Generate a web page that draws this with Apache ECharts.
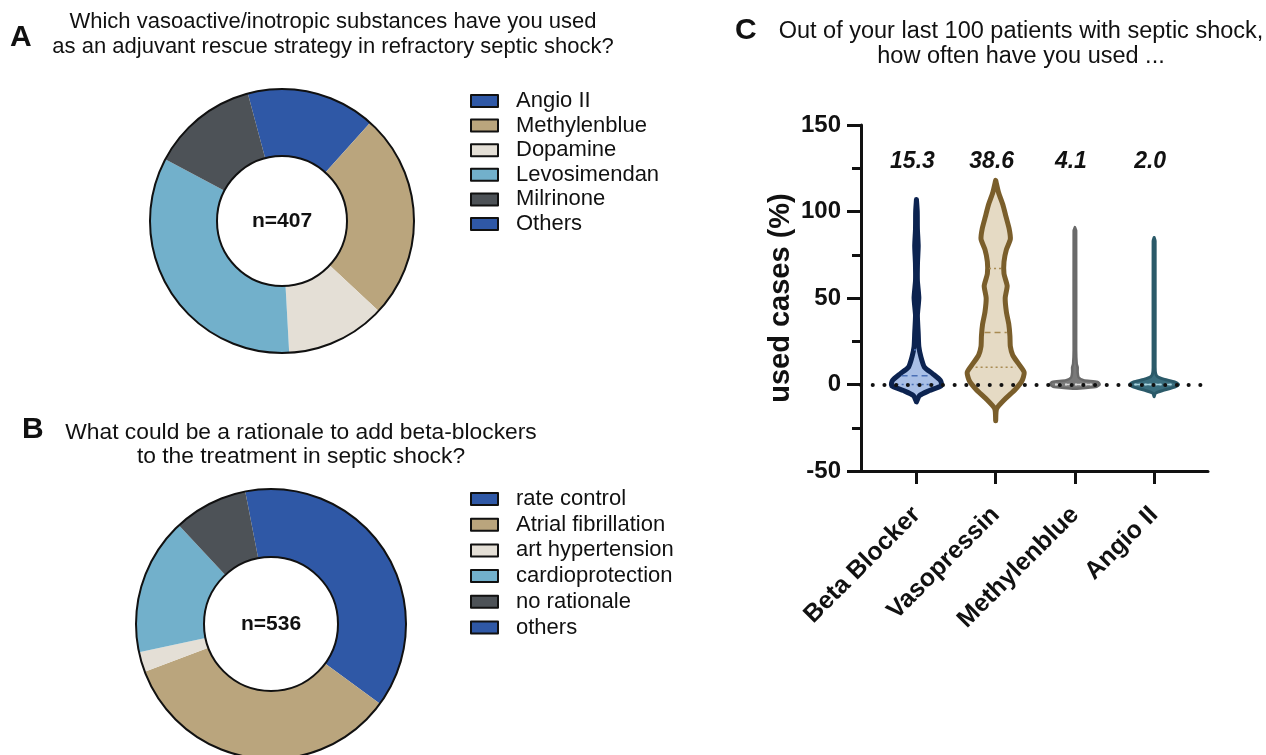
<!DOCTYPE html>
<html>
<head>
<meta charset="utf-8">
<script src="https://cdn.jsdelivr.net/npm/echarts@6/dist/echarts.min.js"></script>
<style>
  html, body { margin: 0; padding: 0; background: #fff; }
  #chart { width: 1266px; height: 755px; }
</style>
</head>
<body>
<div id="chart"></div>
<script>
// ---- panel A: rescue substances (share of answers, %)
const substanceNames = [ 'Angio II', 'Methylenblue', 'Dopamine', 'Levosimendan', 'Milrinone', 'Others' ];
const substanceShare = [ 15.8, 25.3, 12.2, 33.6, 13.1, 0 ];
const substanceN = 407;

// ---- panel B: rationale for beta-blockers (share of answers, %)
const rationaleNames = [ 'rate control', 'Atrial fibrillation', 'art hypertension', 'cardioprotection', 'no rationale', 'others' ];
const rationaleShare = [ 38.1, 34.2, 2.4, 16.4, 8.9, 0 ];
const rationaleN = 536;

// ---- panel C: used cases out of last 100 patients (%)
const drugs = [ 'Beta Blocker', 'Vasopressin', 'Methylenblue', 'Angio II' ];
const drugMeans = [ 15.3, 38.6, 4.1, 2.0 ];
const drugMedians = [ 5, 30, 0, 0 ];
const drugQ1 = [ 0, 10, 0, 0 ];
const drugQ3 = [ 20, 67, 0, 0 ];
const yTicks = [ -50, 0, 50, 100, 150 ];

// violin outlines: levels (%) and half widths (in category units)
const bbLevels = [ -10, -6.4, -3.5, -0.6, 2.3, 6.3, 10, 15.8, 22, 30, 40, 50, 60, 70, 80, 90, 100, 107 ];
const bbWidths = [ 0, 0.038, 0.164, 0.315, 0.303, 0.202, 0.101, 0.057, 0.030, 0.022, 0.012, 0.030, 0.012, 0.013, 0.022, 0.012, 0.010, 0 ];
const vpLevels = [ -21, -14, -8, -3, 2, 7, 12, 17, 22, 28, 35, 42, 50, 57, 64, 71, 78, 84, 90, 97, 104, 111, 118 ];
const vpWidths = [ 0, 0.012, 0.128, 0.244, 0.331, 0.360, 0.288, 0.215, 0.185, 0.180, 0.165, 0.135, 0.120, 0.145, 0.105, 0.105, 0.135, 0.185, 0.170, 0.130, 0.090, 0.036, 0 ];
const mbLevels = [ -2.5, -1.5, 0, 1.5, 2.5, 4, 7, 10, 12, 20, 89, 91 ];
const mbWidths = [ 0, 0.262, 0.313, 0.288, 0.111, 0.048, 0.035, 0.035, 0.023, 0.016, 0.016, 0 ];
const a2Levels = [ -7, -5, -3.5, -1.5, 0, 1.5, 3, 4.5, 6.5, 10, 83, 85 ];
const a2Widths = [ 0, 0.019, 0.107, 0.259, 0.309, 0.259, 0.132, 0.044, 0.019, 0.013, 0.013, 0 ];

const violinLevels = [ bbLevels, vpLevels, mbLevels, a2Levels ];
const violinWidths = [ bbWidths, vpWidths, mbWidths, a2Widths ];

const FONT = '"Liberation Sans", Arial, sans-serif';
const pieColors = [ '#2f58a6', '#baa57d', '#e4dfd6', '#72b0cb', '#4d5257', '#2f58a6' ];
const vStroke = [ '#0c2350', '#7a5e2b', '#6a6a6a', '#2b5a69' ];
const vFill = [ '#a9bfe6', '#e5dac4', '#7a7a7a', '#3a6e7e' ];
const vInner = [ '#4a6fb5', '#a88a52', '#d8d8d8', '#a8d4df' ];
const vLineW = [ 5, 5, 2.5, 3 ];

function widthAt ( levels, widths, v )
{
  for ( let k = 0; k < levels.length - 1; k++ )
  {
    if ( v >= levels[ k ] && v <= levels[ k + 1 ] )
    {
      let t = ( v - levels[ k ] ) / ( levels[ k + 1 ] - levels[ k ] );
      return widths[ k ] + t * ( widths[ k + 1 ] - widths[ k ] );
    }
  }
  return 0;
}

function pieData ( names, values )
{
  return names.map( ( n, i ) => ( { name: n, value: values[ i ], itemStyle: { color: pieColors[ i ] } } ) );
}

function donut ( center, radius, names, values, startAngle )
{
  return {
    type: 'pie', center: center, radius: radius, startAngle: startAngle, clockwise: true,
    silent: true, label: { show: false }, labelLine: { show: false },
    itemStyle: { borderWidth: 0 }, emphasis: { disabled: true },
    data: pieData( names, values )
  };
}

function ring ( center, radius, n )
{
  return {
    type: 'pie', center: center, radius: radius, silent: true, z: 3,
    legendHoverLink: false, emphasis: { disabled: true }, labelLine: { show: false },
    itemStyle: { color: 'rgba(0,0,0,0)', borderColor: '#111', borderWidth: 2 },
    label: { show: true, position: 'center', formatter: 'n=' + n, fontSize: 21, fontWeight: 'bold', color: '#111', fontFamily: FONT },
    data: [ { value: 1, name: 'n=' + n } ]
  };
}

function legendAt ( top, names, gap )
{
  return {
    orient: 'vertical', left: 465, top: top, itemWidth: 27, itemHeight: 12, itemGap: gap,
    icon: 'rect', selectedMode: false, data: names,
    itemStyle: { borderColor: '#111', borderWidth: 2 },
    textStyle: { fontSize: 22, lineHeight: 20, color: '#111', fontFamily: FONT, padding: [ 0, 0, 0, 13 ] }
  };
}

let myChart = echarts.init( document.getElementById( 'chart' ) );

let option = {
  animation: false,
  backgroundColor: '#fff',
  textStyle: { fontFamily: FONT },
  graphic: [
    { type: 'text', left: 10, top: 23, style: { text: 'A', font: 'bold 30px ' + FONT, fill: '#111' } },
    { type: 'text', x: 333, y: 10, style: { text: 'Which vasoactive/inotropic substances have you used\nas an adjuvant rescue strategy in refractory septic shock?', font: '22px ' + FONT, lineHeight: 24.5, align: 'center', fill: '#111' } },
    { type: 'text', left: 22, top: 415, style: { text: 'B', font: 'bold 30px ' + FONT, fill: '#111' } },
    { type: 'text', x: 301, y: 421, style: { text: 'What could be a rationale to add beta-blockers\nto the treatment in septic shock?', font: '22.8px ' + FONT, lineHeight: 23.5, align: 'center', fill: '#111' } },
    { type: 'text', left: 735, top: 16, style: { text: 'C', font: 'bold 30px ' + FONT, fill: '#111' } },
    { type: 'text', x: 1021, y: 19, style: { text: 'Out of your last 100 patients with septic shock,\nhow often have you used ...', font: '23.5px ' + FONT, lineHeight: 25, align: 'center', fill: '#111' } }
  ],
  legend: [
    legendAt( 85, substanceNames, 2.6 ),
    legendAt( 483, rationaleNames, 3.7 )
  ],
  grid: { left: 861, right: 58, top: 125, bottom: 284 },
  xAxis: {
    type: 'value', min: 0.3, max: 4.68, splitLine: { show: false },
    axisLine: { onZero: false, lineStyle: { color: '#111', width: 3 } },
    axisTick: { show: true, customValues: [ 1, 2, 3, 4 ], length: 13, lineStyle: { color: '#111', width: 3 } },
    axisLabel: {
      customValues: [ 1, 2, 3, 4 ], rotate: 45, margin: 40, fontSize: 25, fontWeight: 'bold', color: '#111',
      formatter: v => drugs[ Math.round( v ) - 1 ]
    }
  },
  yAxis: {
    type: 'value', min: yTicks[ 0 ], max: yTicks[ yTicks.length - 1 ], interval: yTicks[ 1 ] - yTicks[ 0 ],
    splitLine: { show: false },
    axisLine: { show: true, lineStyle: { color: '#111', width: 3 } },
    axisTick: { show: true, length: 14, lineStyle: { color: '#111', width: 3 } },
    minorTick: { show: true, splitNumber: 2, length: 9, lineStyle: { color: '#111', width: 3 } },
    axisLabel: { fontSize: 24, fontWeight: 'bold', color: '#111', margin: 20 },
    name: 'used cases (%)', nameLocation: 'middle', nameGap: 66,
    nameTextStyle: { fontSize: 29, fontWeight: 'bold', color: '#111' }
  },
  series: [
    donut( [ 282, 221 ], [ 65, 132 ], substanceNames, substanceShare, 105 ),
    ring( [ 282, 221 ], [ 65, 132 ], substanceN ),
    donut( [ 271, 624 ], [ 67, 135 ], rationaleNames, rationaleShare, 101 ),
    ring( [ 271, 624 ], [ 67, 135 ], rationaleN ),
    {
      // mean labels and dotted zero line
      type: 'custom', z: 1, silent: true,
      data: drugMeans.map( ( m, i ) => [ i + 1, m ] ),
      renderItem: function ( params, api )
      {
        let i = params.dataIndex;
        let p = api.coord( [ i + 1, 129 ] );
        return {
          type: 'text',
          style: { text: drugMeans[ i ].toFixed( 1 ), x: p[ 0 ] - 4, y: p[ 1 ], align: 'center', verticalAlign: 'middle', font: 'italic bold 23px ' + FONT, fill: '#111' }
        };
      },
      markLine: {
        silent: true, symbol: [ 'none', 'none' ], label: { show: false },
        lineStyle: { color: '#111', width: 4, type: [ 0.1, 11.6 ], cap: 'round' },
        data: [ { yAxis: 0 } ]
      }
    },
    {
      // violins
      type: 'custom', z: 3, silent: true, clip: false,
      data: drugs.map( ( d, i ) => [ i + 1, drugMedians[ i ] ] ),
      renderItem: function ( params, api )
      {
        let i = params.dataIndex;
        let cx = i + 1;
        let lv = violinLevels[ i ], wd = violinWidths[ i ];
        let pts = [];
        for ( let k = 0; k < lv.length; k++ ) pts.push( api.coord( [ cx - wd[ k ], lv[ k ] ] ) );
        for ( let k = lv.length - 1; k >= 0; k-- ) pts.push( api.coord( [ cx + wd[ k ], lv[ k ] ] ) );
        let children = [ {
          type: 'polygon', shape: { points: pts, smooth: 0.2 },
          style: { fill: vFill[ i ], stroke: vStroke[ i ], lineWidth: vLineW[ i ], lineJoin: 'round' }
        } ];
        let inner = [
          [ drugQ1[ i ], [ 2, 3 ] ],
          [ drugMedians[ i ], [ 6, 4 ] ],
          [ drugQ3[ i ], [ 2, 3 ] ]
        ];
        inner.forEach( function ( q )
        {
          let w = widthAt( lv, wd, q[ 0 ] ) * 0.8;
          if ( w < 0.03 ) return;
          let a = api.coord( [ cx - w, q[ 0 ] ] ), b = api.coord( [ cx + w, q[ 0 ] ] );
          children.push( {
            type: 'line', shape: { x1: a[ 0 ], y1: a[ 1 ], x2: b[ 0 ], y2: b[ 1 ] },
            style: { stroke: vInner[ i ], lineWidth: 1.5, lineDash: q[ 1 ] }
          } );
        } );
        return { type: 'group', children: children };
      }
    }
  ]
};

myChart.setOption( option );
window.addEventListener( 'resize', function ()
{
  myChart.resize();
} );
</script>
</body>
</html>
